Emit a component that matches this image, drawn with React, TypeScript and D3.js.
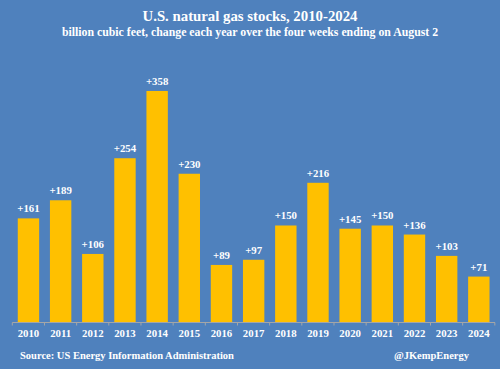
import React from "react";
import * as d3 from "d3";

const years = ["2010","2011","2012","2013","2014","2015","2016","2017","2018","2019","2020","2021","2022","2023","2024"];
const changes = [161, 189, 106, 254, 358, 230, 89, 97, 150, 216, 145, 150, 136, 103, 71];

const W = 500;
const H = 369;
const m = { top: 63.8, right: 5, bottom: 46.5, left: 12.3 };
const font = "'Liberation Serif', 'Times New Roman', serif";

const App = () => {
  const x = d3.scaleBand().domain(years).range([m.left, W - m.right]).paddingInner(0.335).paddingOuter(0.17);
  const y = d3.scaleLinear().domain([0, 400]).range([H - m.bottom, m.top]);
  const base = y(0);
  const step = x.step();

  return (
    <svg width={W} height={H} style={{ display: "block", position: "absolute", left: 0, top: 0 }}>
      <rect x={0} y={0} width={W} height={H} fill="#4f81bd" />
      <text x={W / 2} y={21} textAnchor="middle" fill="#fff" fontFamily={font} fontWeight="bold" fontSize={14.8}>
        U.S. natural gas stocks, 2010-2024
      </text>
      <text x={W / 2} y={36} textAnchor="middle" fill="#fff" fontFamily={font} fontWeight="bold" fontSize={11.8}>
        billion cubic feet, change each year over the four weeks ending on August 2
      </text>
      {years.map((yr, i) => (
        <g key={yr}>
          <rect x={x(yr)} y={y(changes[i])} width={x.bandwidth()} height={base - y(changes[i])} fill="#ffc000" />
          <text x={x(yr)! + x.bandwidth() / 2} y={y(changes[i]) - 6} textAnchor="middle" fill="#fff"
            fontFamily={font} fontWeight="bold" fontSize={10.8}>
            {"+" + changes[i]}
          </text>
          <text x={x(yr)! + x.bandwidth() / 2} y={base + 14.5} textAnchor="middle" fill="#fff"
            fontFamily={font} fontWeight="bold" fontSize={10.8}>
            {yr}
          </text>
        </g>
      ))}
      <line x1={m.left} x2={W - m.right} y1={base} y2={base} stroke="#a6a6a6" strokeWidth={1} />
      {d3.range(years.length + 1).map((i) => (
        <line key={i} x1={m.left + i * step} x2={m.left + i * step} y1={base} y2={base + 3} stroke="#a6a6a6" strokeWidth={1} />
      ))}
      <text x={20} y={359} fill="#fff" fontFamily={font} fontWeight="bold" fontSize={10.5}>
        Source: US Energy Information Administration
      </text>
      <text x={469} y={359} textAnchor="end" fill="#fff" fontFamily={font} fontWeight="bold" fontSize={10.5}>
        @JKempEnergy
      </text>
    </svg>
  );
};

export default App;
